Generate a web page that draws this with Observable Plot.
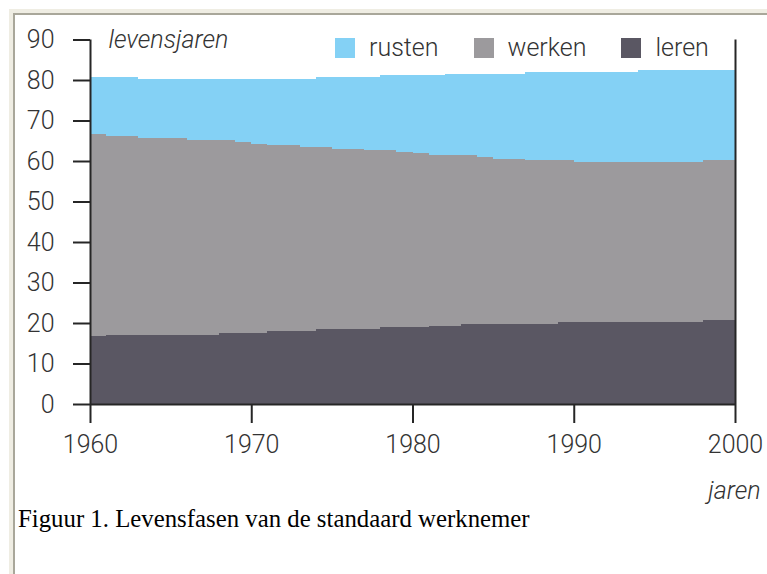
<!DOCTYPE html>
<html>
<head>
<meta charset="utf-8">
<script src="https://cdn.jsdelivr.net/npm/d3@7"></script>
<script src="https://cdn.jsdelivr.net/npm/@observablehq/plot@0.6"></script>
<style>
  html, body { margin: 0; padding: 0; background: #ffffff; }
  #wrap { position: relative; width: 767px; height: 574px; overflow: hidden; background: #ffffff; }
  #frameOuter { position: absolute; left: 9px; top: 9px; right: -20px; bottom: -20px;
    border-top: 4px solid #efede3; border-left: 4px solid #efede3; }
  #frameInner { position: absolute; left: 0; top: 0; right: 0; bottom: 0;
    border-top: 2px solid #a9a79a; border-left: 2px solid #a9a79a; }
  #chart { position: absolute; left: 0; top: 0; }
  #legend { position: absolute; left: 335px; top: 33px; display: flex; align-items: center;
    font-family: Roboto, "Open Sans", sans-serif; font-weight: 300; font-size: 25px; color: #333; }
  #legend .item { display: flex; align-items: center; margin-right: 35px; }
  #legend .sw { width: 20px; height: 20px; margin-right: 14px; }
  #caption { position: absolute; left: 18px; top: 507px; line-height: 24px;
    font-family: "Liberation Serif", "Times New Roman", serif; font-size: 24.8px; color: #000; white-space: nowrap; }
</style>
</head>
<body>
<div id="wrap">
  <div id="frameOuter"><div id="frameInner"></div></div>
  <div id="chart"></div>
  <div id="legend"></div>
  <div id="caption">Figuur 1. Levensfasen van de standaard werknemer</div>
</div>
<script>
// ---- data ----
const years = [1960,1961,1962,1963,1964,1965,1966,1967,1968,1969,
               1970,1971,1972,1973,1974,1975,1976,1977,1978,1979,
               1980,1981,1982,1983,1984,1985,1986,1987,1988,1989,
               1990,1991,1992,1993,1994,1995,1996,1997,1998,1999,2000];
const leren  = [16.8,17.0,17.0,17.0,17.0,17.0,17.0,17.0,17.6,17.6,
                17.6,18.0,18.0,18.0,18.4,18.4,18.4,18.4,19.0,19.0,
                19.0,19.3,19.3,19.8,19.8,19.8,19.8,19.8,19.8,20.3,
                20.3,20.3,20.3,20.3,20.3,20.3,20.3,20.3,20.8,20.8,20.8];
const werken = [49.9,49.1,49.1,48.6,48.6,48.6,48.2,48.2,47.6,47.2,
                46.7,45.9,45.9,45.4,45.0,44.5,44.5,44.2,43.6,43.1,
                43.0,42.3,42.3,41.8,41.3,40.8,40.8,40.4,40.4,39.9,
                39.5,39.5,39.5,39.5,39.5,39.5,39.5,39.5,39.4,39.4,39.4];
const rusten = [14.1,14.7,14.7,14.6,14.6,14.6,15.0,15.0,15.0,15.4,
                15.9,16.3,16.3,16.8,17.4,17.9,17.9,18.2,18.6,19.1,
                19.2,19.6,20.0,20.0,20.5,21.0,21.0,21.8,21.8,21.8,
                22.2,22.2,22.2,22.2,22.7,22.7,22.7,22.7,22.3,22.3,22.3];
const phases = ["leren", "werken", "rusten"];          // stacking order, bottom to top
const legendOrder = ["rusten", "werken", "leren"];
const phaseColors = ["#5a5763", "#9c9a9d", "#84d1f5"];
const xTicks = [1960, 1970, 1980, 1990, 2000];
const yTicks = [0, 10, 20, 30, 40, 50, 60, 70, 80, 90];
const yLabel = "levensjaren";
const xLabel = "jaren";

// ---- table ----
const seriesByPhase = {leren, werken, rusten};
const table = [];
phases.forEach(p => years.forEach((yr, i) => table.push({year: yr, phase: p, value: seriesByPhase[p][i]})));

const ink = "#262626";
const textInk = "#333333";
const chart = Plot.plot({
  width: 767,
  height: 520,
  marginLeft: 90,
  marginRight: 32,
  marginTop: 39.5,
  marginBottom: 116,
  x: {domain: [xTicks[0], xTicks[xTicks.length - 1]]},
  y: {domain: [yTicks[0], yTicks[yTicks.length - 1]]},
  color: {domain: phases, range: phaseColors},
  style: {fontFamily: "Roboto, 'Open Sans', sans-serif", fontSize: "25px", fontWeight: 300, background: "transparent", color: textInk, overflow: "visible"},
  marks: [
    Plot.areaY(table, {x: "year", y: "value", fill: "phase", order: phases, curve: "step-after", shapeRendering: "crispEdges"}),
    Plot.ruleY([yTicks[0]], {stroke: ink, strokeWidth: 2}),
    Plot.ruleX([xTicks[0]], {y1: yTicks[0], y2: yTicks[yTicks.length - 1], stroke: ink, strokeWidth: 2}),
    Plot.ruleX([xTicks[xTicks.length - 1]], {y1: yTicks[0], y2: yTicks[yTicks.length - 1], stroke: ink, strokeWidth: 2}),
    Plot.axisX({ticks: xTicks, tickFormat: "d", tickSize: 19, tickPadding: 12, strokeWidth: 2, stroke: ink, fill: textInk, label: null}),
    Plot.axisY({ticks: yTicks, tickSize: 17, tickPadding: 19, strokeWidth: 2, stroke: ink, fill: textInk, label: null}),
    Plot.text([yLabel], {text: d => d, frameAnchor: "top-left", dx: 18, dy: 0, textAnchor: "start", lineAnchor: "middle", fontStyle: "italic", fill: textInk}),
    Plot.text([xLabel], {text: d => d, frameAnchor: "bottom-right", dx: 25, dy: 86, textAnchor: "end", lineAnchor: "middle", fontStyle: "italic", fill: textInk})
  ]
});
document.getElementById("chart").appendChild(chart);

// ---- legend ----
const legend = document.getElementById("legend");
legendOrder.forEach(p => {
  const item = document.createElement("div");
  item.className = "item";
  const sw = document.createElement("div");
  sw.className = "sw";
  sw.style.background = phaseColors[phases.indexOf(p)];
  const t = document.createElement("span");
  t.textContent = p;
  item.appendChild(sw);
  item.appendChild(t);
  legend.appendChild(item);
});
</script>
</body>
</html>
